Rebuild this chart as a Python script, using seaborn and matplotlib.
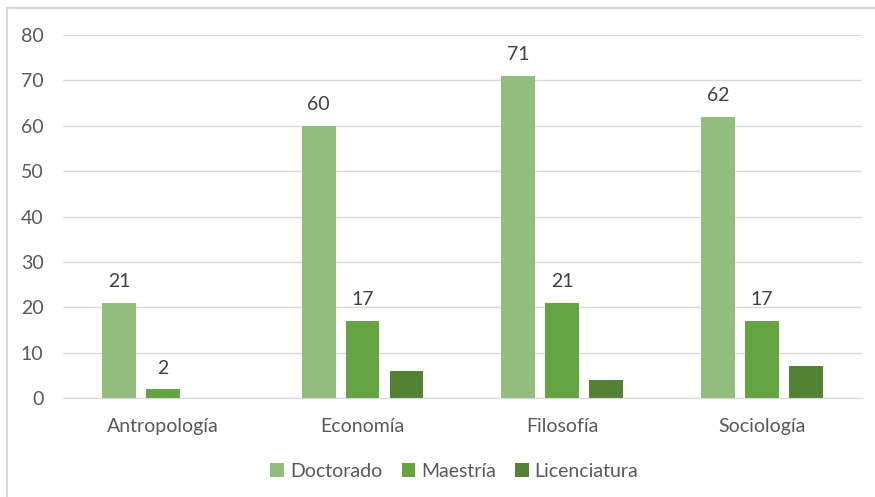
import pandas as pd
import numpy as np
import seaborn as sns
import matplotlib.pyplot as plt
from matplotlib.patches import Rectangle

# Data
carreras = ['Antropología', 'Economía', 'Filosofía', 'Sociología']
doctorado = [21, 60, 71, 62]
maestria = [2, 17, 21, 17]
licenciatura = [np.nan, 6, 4, 7]
niveles = ['Doctorado', 'Maestría', 'Licenciatura']
colores = ['#93BD7C', '#64A443', '#548235']

df = pd.DataFrame({
    'carrera': carreras * 3,
    'nivel': [n for n in niveles for _ in carreras],
    'valor': doctorado + maestria + licenciatura,
})

sns.set_style('white')
plt.rcParams['font.family'] = ['Lato', 'DejaVu Sans']

fig = plt.figure(figsize=(8.75, 4.97), dpi=100)
ax = fig.add_axes([0.072, 0.199, 0.913, 0.7306])

sns.barplot(data=df, x='carrera', y='valor', hue='nivel', hue_order=niveles,
            palette=colores, width=0.66, gap=0.23, ax=ax, legend=True,
            saturation=1, linewidth=0)

# Data labels only on Doctorado and Maestría
for cont in ax.containers[:2]:
    ax.bar_label(cont, fmt='%d', padding=9, fontsize=14, color='#404040')

ax.set_ylim(0, 80)
ax.set_yticks(range(0, 81, 10))
ax.set_xlabel('')
ax.set_ylabel('')
ax.grid(axis='y', color='#D9D9D9', linewidth=1)
ax.set_axisbelow(True)
for s in ax.spines.values():
    s.set_visible(False)
ax.spines['bottom'].set_visible(True)
ax.spines['bottom'].set_color('#D9D9D9')
ax.tick_params(axis='both', length=0, labelsize=14, colors='#595959', pad=14)
ax.tick_params(axis='y', pad=14)

leg = ax.legend(loc='upper center', bbox_to_anchor=(0.49, -0.13), ncol=3,
                frameon=False, fontsize=14, handlelength=0.7, handleheight=0.7,
                handletextpad=0.3, columnspacing=1.0)
for t in leg.get_texts():
    t.set_color('#595959')

# Outer chart border (partly cropped in reference)
fig.patches.append(Rectangle((7 / 875, -0.05), 1.2, 1 - 8 / 497 + 0.05,
                             transform=fig.transFigure, fill=False,
                             edgecolor='#D9D9D9', linewidth=1.5))

fig.savefig('out.png', dpi=100)
